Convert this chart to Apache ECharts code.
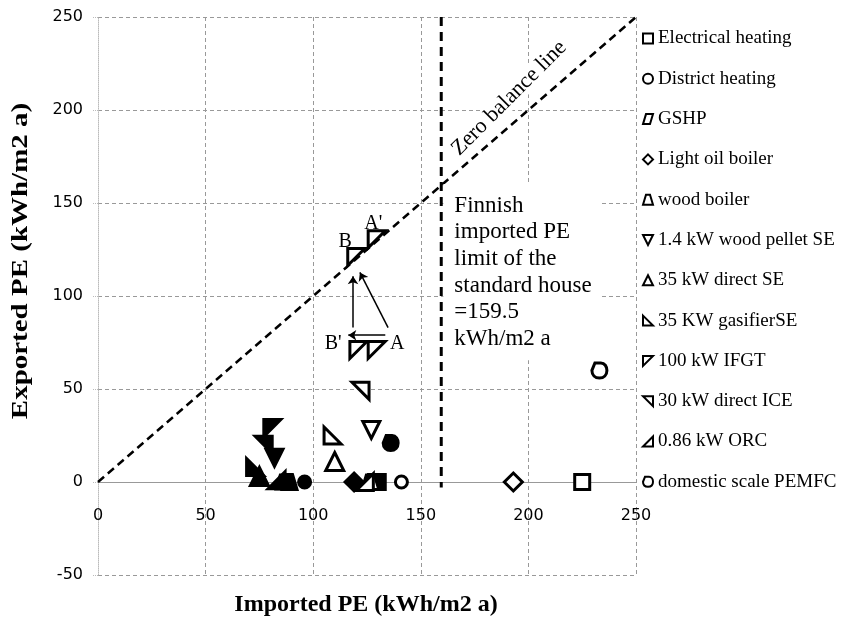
<!DOCTYPE html>
<html>
<head>
<meta charset="utf-8">
<style>
html, body { margin: 0; padding: 0; background: #fff; }
#main { width: 847px; height: 618px; }
</style>
<script src="https://cdn.jsdelivr.net/npm/echarts@6/dist/echarts.min.js"></script>
</head>
<body>
<div id="main"></div>
<script>
// axis ranges
var xRange = [0, 250];
var yRange = [-50, 250];
var tickStep = 50;

// legend / series names
var names = ['Electrical heating', 'District heating', 'GSHP', 'Light oil boiler', 'wood boiler',
    '1.4 kW wood pellet SE', '35 kW direct SE', '35 KW gasifierSE', '100 kW IFGT',
    '30 kW direct ICE', '0.86 kW ORC', 'domestic scale PEMFC'];

// open (hollow) markers per series
var openPoints = [
    [[225, 0]],
    [[141, 0]],
    [[126, 0]],
    [[193, 0]],
    [[127, 0]],
    [[127, 28]],
    [[110, 11]],
    [[109, 25]],
    [[121, 71], [129.5, 71], [120, 121], [129.5, 130.5]],
    [[122, 49]],
    [[124, 0]],
    [[233, 60]]
];
// filled (black) markers per series
var filledPoints = [
    [[130, 0]],
    [[96, 0]],
    [[86, 0]],
    [[119, 0]],
    [[89, 0]],
    [[82, 13]],
    [[75, 3]],
    [[73, 8]],
    [[81, 29]],
    [[77, 20]],
    [[83, 1]],
    [[136, 21]]
];

var zeroBalance = [[0, 0], [250, 250]];
var limitX = 159.5;
var limitLine = [[limitX, 250], [limitX, -3]];
var arrows = [
    [[118.5, 83], [118.5, 110.6]],
    [[134.8, 83], [121.7, 112.7]],
    [[133.5, 78.9], [116.3, 78.9]]
];
var pointLabels = ["A'", 'B', "B'", 'A'];
var pointLabelPos = [[127.9, 138.9], [114.8, 129], [109.3, 74.4], [139.1, 74.4]];

var SERIF = '"Liberation Serif", "Times New Roman", serif';
var SANS = '"DejaVu Sans", sans-serif';

var symbols = [
    'rect',
    'circle',
    'path://M3,0 L10,0 L7,10 L0,10 Z',
    'diamond',
    'path://M3,0 L7,0 L10,10 L0,10 Z',
    'path://M0,0 L10,0 L5,10 Z',
    'triangle',
    'path://M0,0 L10,10 L0,10 Z',
    'path://M0,0 L10,0 L0,10 Z',
    'path://M0,0 L10,0 L10,10 Z',
    'path://M10,0 L10,10 L0,10 Z',
    'path://M2,0 L6,0 C8.5,0 10,2.5 10,5 C10,8 8,10 5,10 C2,10 0,8 0,5 Z'
];
var sizes = [15, 12, 14, 18, 15, 17, 18, 17, 17, 17, 17, 15];

var gridTop = 17, gridBottom = 43, chartH = 618;
var plotH = chartH - gridTop - gridBottom;
// x axis sits on y = 0, labels follow it
var zeroOffset = (0 - yRange[0]) / (yRange[1] - yRange[0]) * plotH;

var chart = echarts.init(document.getElementById('main'));

var series = names.map(function (n, i) {
    var data = openPoints[i].map(function (p) { return { value: p }; })
        .concat(filledPoints[i].map(function (p) {
            return { value: p, itemStyle: { color: '#000' } };
        }));
    return {
        name: n,
        type: 'scatter',
        symbol: symbols[i],
        symbolSize: sizes[i],
        symbolKeepAspect: true,
        itemStyle: { color: '#fff', borderColor: '#000', borderWidth: 3, opacity: 1 },
        z: 5,
        data: data
    };
});

series.push({
    type: 'line',
    data: zeroBalance,
    symbol: 'none',
    silent: true,
    lineStyle: { color: '#000', width: 2.5, type: [8, 5] },
    z: 3
});
series.push({
    type: 'line',
    data: limitLine,
    symbol: 'none',
    silent: true,
    lineStyle: { color: '#000', width: 3, type: [9, 6] },
    z: 3
});
series.push({
    type: 'lines',
    coordinateSystem: 'cartesian2d',
    symbol: ['none', 'arrow'],
    symbolSize: 8,
    silent: true,
    lineStyle: { color: '#000', width: 1.5, opacity: 1 },
    data: arrows.map(function (a) { return { coords: a }; }),
    z: 4
});

var option = {
    animation: false,
    backgroundColor: '#fff',
    grid: { left: 98, right: 211, top: gridTop, bottom: gridBottom },
    legend: {
        data: names,
        orient: 'vertical',
        left: 637,
        top: 24,
        itemGap: 21.3,
        itemWidth: 10,
        itemHeight: 10,
        selectedMode: false,
        itemStyle: { borderWidth: 2 },
        textStyle: { fontFamily: SERIF, fontSize: 19, color: '#000' }
    },
    xAxis: {
        type: 'value',
        min: xRange[0],
        max: xRange[1],
        interval: tickStep,
        offset: -zeroOffset,
        axisLine: { onZero: false, lineStyle: { color: '#999', width: 1 } },
        axisTick: { show: false },
        axisLabel: { margin: 26, fontFamily: SANS, fontSize: 16, color: '#000' },
        splitLine: { show: true, showMinLine: false, lineStyle: { color: '#999', type: [4, 3] } }
    },
    yAxis: {
        type: 'value',
        min: yRange[0],
        max: yRange[1],
        interval: tickStep,
        axisLine: { show: true, onZero: false, lineStyle: { color: '#bbb', type: 'dotted' } },
        axisTick: { show: true, length: 5, lineStyle: { color: '#bbb', type: 'dotted' } },
        axisLabel: { margin: 15, fontFamily: SANS, fontSize: 16, color: '#000' },
        splitLine: { show: true, lineStyle: { color: '#999', type: [4, 3] } }
    },
    series: series
};
chart.setOption(option);

// annotations placed from data coordinates
var graphics = [];
pointLabels.forEach(function (t, i) {
    var p = chart.convertToPixel({ gridIndex: 0 }, pointLabelPos[i]);
    graphics.push({
        type: 'text', x: p[0], y: p[1], z: 10,
        style: { text: t, font: '20px ' + SERIF, fill: '#000', align: 'center', verticalAlign: 'middle' }
    });
});
var zb = chart.convertToPixel({ gridIndex: 0 }, [191, 206.3]);
graphics.push({
    type: 'text', x: zb[0], y: zb[1], rotation: Math.PI / 4, z: 10,
    style: {
        text: 'Zero balance line', font: '22px ' + SERIF, fill: '#000',
        align: 'center', verticalAlign: 'middle', backgroundColor: '#fff', padding: [0, 2]
    }
});
var fb = chart.convertToPixel({ gridIndex: 0 }, [165.6, 148.7]);
graphics.push({
    type: 'text', x: fb[0] - 11, y: fb[1] - 13.3 - 8, z: 10,
    style: {
        text: 'Finnish\nimported PE\nlimit of the\nstandard house\n=159.5\nkWh/m2 a',
        font: '23px ' + SERIF, fill: '#000', lineHeight: 26.7,
        backgroundColor: '#fff', padding: [8, 10, 8, 11]
    }
});
graphics.push({
    type: 'text', x: 366, y: 605, z: 10,
    style: {
        text: 'Imported PE (kWh/m2 a)', font: 'bold 24px ' + SERIF, fill: '#000',
        align: 'center', verticalAlign: 'middle'
    }
});
graphics.push({
    type: 'text', x: 21, y: 261, rotation: Math.PI / 2, scaleX: 1.26, z: 10,
    style: {
        text: 'Exported PE (kWh/m2 a)', font: 'bold 23px ' + SERIF, fill: '#000',
        align: 'center', verticalAlign: 'middle'
    }
});
chart.setOption({ graphic: graphics });
</script>
</body>
</html>
